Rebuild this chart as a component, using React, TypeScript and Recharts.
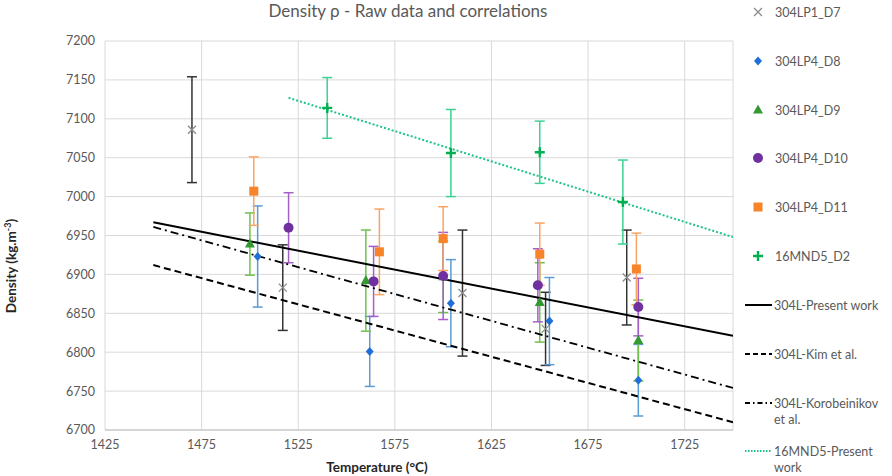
import React from "react";
import { ComposedChart, Scatter, XAxis, YAxis, CartesianGrid, ErrorBar } from "recharts";

// ---- data ----
const xTicks = [1425, 1475, 1525, 1575, 1625, 1675, 1725];
const yTicks = [6700, 6750, 6800, 6850, 6900, 6950, 7000, 7050, 7100, 7150, 7200];

const d7T = [1470, 1517, 1610, 1653, 1695];
const d7D = [7086, 6883, 6876, 6830, 6896];
const d7E = [68, 55, 81, 47, 61];

const d8T = [1504, 1562, 1604, 1655, 1701];
const d8D = [6923, 6801, 6863, 6840, 6764];
const d8E = [65, 45, 56, 56, 46];

const d9T = [1500, 1560, 1600, 1650, 1701];
const d9D = [6939, 6892, 6897, 6864, 6815];
const d9E = [40, 65, 46, 51, 52];

const d10T = [1520, 1564, 1600, 1649, 1701];
const d10D = [6960, 6891, 6898, 6886, 6858];
const d10E = [45, 45, 56, 47, 37];

const d11T = [1502, 1567, 1600, 1650, 1700];
const d11D = [7007, 6929, 6946, 6926, 6907];
const d11E = [44, 55, 41, 40, 46];

const d2T = [1540, 1604, 1650, 1693];
const d2D = [7114, 7056, 7057, 6993];
const d2E = [39, 56, 40, 54];

const presentT = [1450, 1750];
const presentD = [6967, 6821];
const kimT = [1450, 1750];
const kimD = [6912, 6710];
const korobT = [1450, 1750];
const korobD = [6961, 6754];
const mndT = [1520, 1750];
const mndD = [7127, 6948];

const rows = (t: number[], d: number[], e?: number[]) =>
  t.map((x, i) => ({ x, y: d[i], e: e ? e[i] : 0 }));

// ---- markers ----
const XMark = (p: any) => {
  const { cx, cy } = p;
  return (
    <path
      d={`M${cx - 4},${cy - 4}L${cx + 4},${cy + 4}M${cx - 4},${cy + 4}L${cx + 4},${cy - 4}`}
      stroke="#8c8c8c"
      strokeWidth={1.3}
      fill="none"
    />
  );
};
const Diamond = (p: any) => {
  const { cx, cy } = p;
  return <polygon points={`${cx},${cy - 4.5} ${cx + 4},${cy} ${cx},${cy + 4.5} ${cx - 4},${cy}`} fill="#1f6fd6" />;
};
const Tri = (p: any) => {
  const { cx, cy } = p;
  return <polygon points={`${cx},${cy - 5.5} ${cx + 5},${cy + 3.5} ${cx - 5},${cy + 3.5}`} fill="#339933" />;
};
const Circ = (p: any) => {
  const { cx, cy } = p;
  return <circle cx={cx} cy={cy} r={5} fill="#7030a0" />;
};
const Sq = (p: any) => {
  const { cx, cy } = p;
  return <rect x={cx - 4.5} y={cy - 4.5} width={9} height={9} fill="#f7832a" />;
};
const Plus = (p: any) => {
  const { cx, cy } = p;
  return (
    <path
      d={`M${cx - 5},${cy}L${cx + 5},${cy}M${cx},${cy - 5}L${cx},${cy + 5}`}
      stroke="#00b050"
      strokeWidth={2.4}
      fill="none"
    />
  );
};
const NoShape = () => <g />;

const FONT = "Lato, 'Open Sans', sans-serif";

const legendMarkers = [
  { label: "304LP1_D7", y: 12, Shape: XMark },
  { label: "304LP4_D8", y: 61, Shape: Diamond },
  { label: "304LP4_D9", y: 110, Shape: Tri },
  { label: "304LP4_D10", y: 158, Shape: Circ },
  { label: "304LP4_D11", y: 207, Shape: Sq },
  { label: "16MND5_D2", y: 256, Shape: Plus },
];
const legendLines = [
  { label: ["304L-Present work"], y: 305, stroke: "#000", dash: undefined, w: 2 },
  { label: ["304L-Kim et al."], y: 354, stroke: "#000", dash: "5 3", w: 2 },
  { label: ["304L-Korobeinikov", "et al."], y: 403, stroke: "#000", dash: "5 3 1.5 3", w: 2 },
  { label: ["16MND5-Present", "work"], y: 451, stroke: "#1cc486", dash: "1.5 1.5", w: 2 },
];

export default function App() {
  return (
    <div style={{ position: "absolute", left: 0, top: 0, width: 892, height: 476, background: "#fff", fontFamily: FONT }}>
      <ComposedChart
        width={892}
        height={476}
        margin={{ top: 41, right: 159, bottom: 16, left: 45 }}
      >
        <CartesianGrid stroke="#d9d9d9" strokeWidth={1} />
        <XAxis
          dataKey="x"
          type="number"
          domain={[1425, 1750]}
          ticks={xTicks}
          allowDataOverflow
          height={30}
          axisLine={{ stroke: "#bfbfbf" }}
          tickLine={false}
          tickMargin={4}
          tick={{ fill: "#595959", fontSize: 12.5, fontFamily: FONT }}
        />
        <YAxis
          dataKey="y"
          type="number"
          domain={[6700, 7200]}
          ticks={yTicks}
          allowDataOverflow
          width={60}
          axisLine={false}
          tickLine={false}
          tickMargin={4}
          tick={{ fill: "#595959", fontSize: 12.5, fontFamily: FONT }}
        />
        <Scatter data={rows(presentT, presentD)} shape={NoShape} line={{ stroke: "#000", strokeWidth: 2 }} isAnimationActive={false} />
        <Scatter data={rows(kimT, kimD)} shape={NoShape} line={{ stroke: "#000", strokeWidth: 2, strokeDasharray: "7 4" }} isAnimationActive={false} />
        <Scatter data={rows(korobT, korobD)} shape={NoShape} line={{ stroke: "#000", strokeWidth: 1.8, strokeDasharray: "8 4 2 4" }} isAnimationActive={false} />
        <Scatter data={rows(mndT, mndD)} shape={NoShape} line={{ stroke: "#1cc486", strokeWidth: 2, strokeDasharray: "2 2" }} isAnimationActive={false} />

        <Scatter data={rows(d7T, d7D, d7E)} shape={XMark} isAnimationActive={false}>
          <ErrorBar dataKey="e" direction="y" width={5} stroke="#333333" strokeWidth={1.5} />
        </Scatter>
        <Scatter data={rows(d8T, d8D, d8E)} shape={Diamond} isAnimationActive={false}>
          <ErrorBar dataKey="e" direction="y" width={5} stroke="#5b9bd5" strokeWidth={1.5} />
        </Scatter>
        <Scatter data={rows(d9T, d9D, d9E)} shape={Tri} isAnimationActive={false}>
          <ErrorBar dataKey="e" direction="y" width={5} stroke="#70c050" strokeWidth={1.5} />
        </Scatter>
        <Scatter data={rows(d10T, d10D, d10E)} shape={Circ} isAnimationActive={false}>
          <ErrorBar dataKey="e" direction="y" width={5} stroke="#a55fc9" strokeWidth={1.5} />
        </Scatter>
        <Scatter data={rows(d11T, d11D, d11E)} shape={Sq} isAnimationActive={false}>
          <ErrorBar dataKey="e" direction="y" width={5} stroke="#f9a462" strokeWidth={1.5} />
        </Scatter>
        <Scatter data={rows(d2T, d2D, d2E)} shape={Plus} isAnimationActive={false}>
          <ErrorBar dataKey="e" direction="y" width={5} stroke="#3dd194" strokeWidth={1.5} />
        </Scatter>
      </ComposedChart>

      {/* title */}
      <div style={{ position: "absolute", left: 258, width: 300, top: 0, textAlign: "center", fontSize: 17, color: "#595959", lineHeight: "22px" }}>
        Density ρ - Raw data and correlations
      </div>
      {/* x-axis title */}
      <div style={{ position: "absolute", left: 277, width: 200, top: 458, textAlign: "center", fontSize: 13.5, fontWeight: 700, color: "#262626", lineHeight: "18px" }}>
        Temperature (°C)
      </div>
      {/* y-axis title */}
      <div
        style={{
          position: "absolute",
          left: 11,
          top: 266,
          width: 140,
          height: 18,
          marginLeft: -70,
          marginTop: -9,
          transform: "rotate(-90deg)",
          textAlign: "center",
          fontSize: 13.5,
          fontWeight: 700,
          color: "#262626",
          lineHeight: "18px",
          whiteSpace: "nowrap",
        }}
      >
        Density (kg.m<sup style={{ fontSize: 9, lineHeight: 0 }}>-3</sup>)
      </div>

      {/* legend */}
      <svg style={{ position: "absolute", left: 740, top: 0 }} width={152} height={476}>
        {legendMarkers.map((m) => (
          <g key={m.label}>
            <m.Shape cx={18} cy={m.y} />
            <text x={35} y={m.y} dominantBaseline="central" fontSize={12.5} fill="#595959" fontFamily={FONT}>
              {m.label}
            </text>
          </g>
        ))}
        {legendLines.map((l) => (
          <g key={l.label[0]}>
            <line x1={5} x2={32} y1={l.y} y2={l.y} stroke={l.stroke} strokeWidth={l.w} strokeDasharray={l.dash} />
            {l.label.map((t, i) => (
              <text key={t} x={34} y={l.y + i * 16} dominantBaseline="central" fontSize={12.5} fill="#595959" fontFamily={FONT}>
                {t}
              </text>
            ))}
          </g>
        ))}
      </svg>
    </div>
  );
}
